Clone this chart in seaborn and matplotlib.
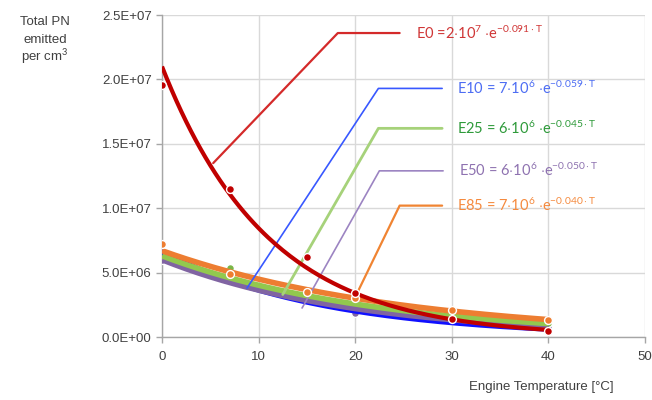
import numpy as np
import pandas as pd
import matplotlib
matplotlib.use("Agg")
import matplotlib.pyplot as plt
import seaborn as sns

# Measured particle numbers per fuel blend
temps = [0, 7, 15, 20, 30, 40]
fuels = ["E0", "E10", "E25", "E50", "E85"]
pn_e0 = [1.96e7, 1.15e7, 6.2e6, 3.4e6, 1.4e6, 0.45e6]
pn_e10 = [6.6e6, 4.5e6, 3.1e6, 2.7e6, 1.3e6, 0.7e6]
pn_e25 = [6.4e6, 5.35e6, 3.3e6, 2.5e6, 1.7e6, 1.1e6]
pn_e50 = [6.0e6, 4.7e6, 3.0e6, 1.9e6, 1.3e6, 0.8e6]
pn_e85 = [7.2e6, 4.9e6, 3.5e6, 3.0e6, 2.1e6, 1.35e6]

# Exponential trend lines  PN = a * exp(-k * T)
fit_a = [2.1e7, 6.6e6, 6.3e6, 6.0e6, 6.7e6]
fit_k = [0.091, 0.059, 0.045, 0.050, 0.040]

x_ticks = [0, 10, 20, 30, 40, 50]
y_ticks = [0, 5e6, 1e7, 1.5e7, 2e7, 2.5e7]

line_colors = ["#c00000", "#1010ff", "#92c84e", "#8064a2", "#ed7d31"]
marker_colors = ["#c00000", "#1010ff", "#7ab648", "#8064a2", "#ed7d31"]
label_colors = ["#d03636", "#4d6df3", "#2e9a3a", "#8e72b0", "#f58a3e"]
leader_colors = ["#d42a2a", "#3858ff", "#a6d27a", "#9c84c2", "#f08432"]

sns.set_theme(style="white")
plt.rcParams["font.family"] = ["Liberation Sans", "DejaVu Sans"]
plt.rcParams["mathtext.fontset"] = "custom"
plt.rcParams["mathtext.rm"] = "Lato"
plt.rcParams["mathtext.it"] = "Lato"

fig = plt.figure(figsize=(6.52, 4.0), dpi=100)
ax = fig.add_axes([162 / 652, 1 - 337 / 400, (645 - 162) / 652, (337 - 15) / 400])

series = [pn_e0, pn_e10, pn_e25, pn_e50, pn_e85]
points = pd.DataFrame({
    "T": np.tile(temps, len(fuels)),
    "PN": np.concatenate(series),
    "fuel": np.repeat(fuels, len(temps)),
})

t_grid = np.linspace(0, 40, 161)
fits = pd.DataFrame({
    "T": np.tile(t_grid, len(fuels)),
    "PN": np.concatenate([a * np.exp(-k * t_grid) for a, k in zip(fit_a, fit_k)]),
    "fuel": np.repeat(fuels, len(t_grid)),
})

order = [1, 3, 2, 4, 0]

# measured points: E0 and E85 drawn above the trend lines, the rest below
marker_z = [8, 3, 3, 3, 7]
for i in order:
    sub = points[points["fuel"] == fuels[i]]
    sns.scatterplot(data=sub, x="T", y="PN", color=marker_colors[i], s=32,
                    edgecolor="white", linewidth=1.0, ax=ax, zorder=marker_z[i])

# trend lines: blends first, E0 on top
widths = [3.0, 4.0, 4.0, 4.0, 4.0]
for i in order:
    sub = fits[fits["fuel"] == fuels[i]]
    sns.lineplot(data=sub, x="T", y="PN", color=line_colors[i], lw=widths[i],
                 ax=ax, zorder=4 + (2 if i == 0 else 0), solid_capstyle="butt")

# equation labels with leader lines
leaders = [
    [(5.3, 1.35e7), (18.2, 2.36e7), (24.6, 2.36e7)],
    [(8.8, 3.8e6), (22.4, 1.93e7), (29.0, 1.93e7)],
    [(12.5, 3.3e6), (22.4, 1.62e7), (29.0, 1.62e7)],
    [(14.5, 2.25e6), (22.5, 1.29e7), (29.1, 1.29e7)],
    [(20.0, 3.1e6), (24.6, 1.02e7), (29.0, 1.02e7)],
]
leader_w = [1.6, 1.2, 2.0, 1.2, 1.6]
label_x = [26.3, 30.5, 30.5, 30.7, 30.5]
for i, pts in enumerate(leaders):
    xs, ys = zip(*pts)
    ax.plot(xs, ys, color=leader_colors[i], lw=leader_w[i], zorder=5)
    a = fit_a[i]
    exp10 = int(np.floor(np.log10(a)))
    coef = int(round(a / 10 ** exp10))
    sep = " =" if i == 0 else " = "
    txt = (f"{fuels[i]}{sep}{coef}$\\cdot$10$^{{{exp10}}}$ $\\cdot$e"
           f"$^{{\\mathrm{{-{fit_k[i]:.3f}}}\\cdot\\mathrm{{T}}}}$")
    ax.text(label_x[i], ys[-1], txt, color=label_colors[i], fontsize=10.5,
            family="Lato", ha="left", va="center", zorder=9)

ax.set_xlim(0, 50)
ax.set_ylim(0, 2.5e7)
ax.set_xticks(x_ticks)
ax.set_yticks(y_ticks)
ax.set_xticklabels([str(v) for v in x_ticks])
ax.set_yticklabels([f"{v:.1E}" for v in y_ticks])
ax.grid(True, color="#d9d9d9", lw=1.0)
ax.set_axisbelow(True)
for s in ["top", "right"]:
    ax.spines[s].set_visible(False)
for s in ["left", "bottom"]:
    ax.spines[s].set_color("#a6a6a6")
    ax.spines[s].set_linewidth(1.0)
ax.tick_params(axis="both", colors="#a6a6a6", labelcolor="#404040",
               labelsize=9.5, length=4, width=1.0, direction="out",
               left=True, bottom=True)
ax.tick_params(axis="x", pad=6)
ax.set_xlabel("")
ax.set_ylabel("")

# y-axis title, one line per row
for row, y_px in zip(["Total PN", "emitted", "per cm$^3$"], [22, 40, 57]):
    fig.text(45 / 652, 1 - y_px / 400, row, ha="center", va="center",
             fontsize=9.5, color="#404040")
fig.text(541 / 652, 1 - 387 / 400, "Engine Temperature [°C]", ha="center",
         va="center", fontsize=9.5, color="#404040")

fig.savefig("out.png", dpi=100, facecolor="white")
